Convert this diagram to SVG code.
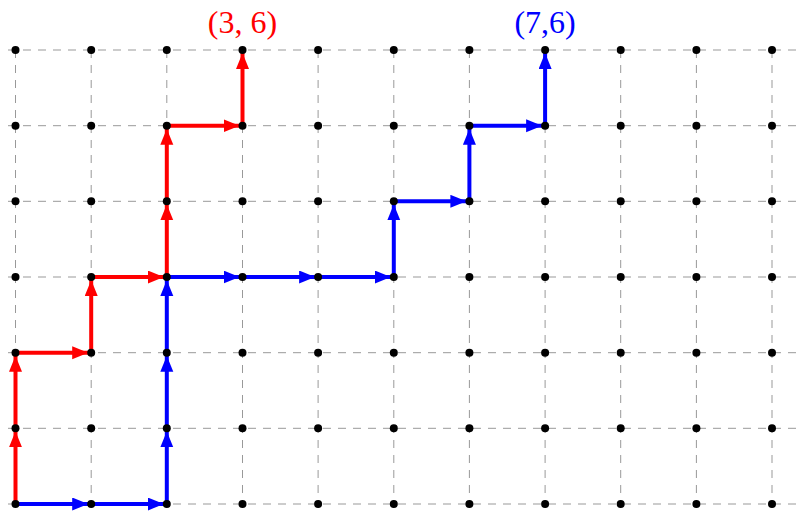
<svg xmlns="http://www.w3.org/2000/svg" width="798" height="512" viewBox="0 0 798 512">
<style>
.grid line{stroke:#999;stroke-width:1;stroke-dasharray:8 7;fill:none}
.red line{stroke:#ff0000;stroke-width:4;marker-end:url(#ar)}
.blue line{stroke:#0000ff;stroke-width:4;marker-end:url(#ab)}
.dots circle{fill:#000}
.lbl{font-family:"Liberation Serif","Times New Roman",serif;font-size:32px;text-anchor:middle}
</style>
<defs>
<marker id="ar" markerUnits="userSpaceOnUse" markerWidth="20" markerHeight="14" refX="19" refY="6.5" orient="auto"><path d="M0,0 L16,6.5 L0,13 z" fill="#ff0000"/></marker>
<marker id="ab" markerUnits="userSpaceOnUse" markerWidth="20" markerHeight="14" refX="19" refY="6.5" orient="auto"><path d="M0,0 L16,6.5 L0,13 z" fill="#0000ff"/></marker>
</defs>
<rect width="798" height="512" fill="#fff"/>
<g id="grid" class="grid">
<line x1="8" y1="50" x2="798" y2="50"/>
<line x1="8" y1="125.7" x2="798" y2="125.7"/>
<line x1="8" y1="201.3" x2="798" y2="201.3"/>
<line x1="8" y1="277" x2="798" y2="277"/>
<line x1="8" y1="352.7" x2="798" y2="352.7"/>
<line x1="8" y1="428.3" x2="798" y2="428.3"/>
<line x1="8" y1="504" x2="798" y2="504"/>
<line x1="15.5" y1="50" x2="15.5" y2="512"/>
<line x1="91.2" y1="50" x2="91.2" y2="512"/>
<line x1="166.8" y1="50" x2="166.8" y2="512"/>
<line x1="242.5" y1="50" x2="242.5" y2="512"/>
<line x1="318.1" y1="50" x2="318.1" y2="512"/>
<line x1="393.8" y1="50" x2="393.8" y2="512"/>
<line x1="469.4" y1="50" x2="469.4" y2="512"/>
<line x1="545.1" y1="50" x2="545.1" y2="512"/>
<line x1="620.7" y1="50" x2="620.7" y2="512"/>
<line x1="696.4" y1="50" x2="696.4" y2="512"/>
<line x1="772" y1="50" x2="772" y2="512"/>
</g>
<g id="connectors">
<g id="red-path" class="red">
<line x1="15.5" y1="504" x2="15.5" y2="428.3"/>
<line x1="15.5" y1="428.3" x2="15.5" y2="352.7"/>
<line x1="15.5" y1="352.7" x2="91.2" y2="352.7"/>
<line x1="91.2" y1="352.7" x2="91.2" y2="277"/>
<line x1="91.2" y1="277" x2="166.8" y2="277"/>
<line x1="166.8" y1="277" x2="166.8" y2="201.3"/>
<line x1="166.8" y1="201.3" x2="166.8" y2="125.7"/>
<line x1="166.8" y1="125.7" x2="242.5" y2="125.7"/>
<line x1="242.5" y1="125.7" x2="242.5" y2="50"/>
</g>
<g id="blue-path" class="blue">
<line x1="15.5" y1="504" x2="91.2" y2="504"/>
<line x1="91.2" y1="504" x2="166.8" y2="504"/>
<line x1="166.8" y1="504" x2="166.8" y2="428.3"/>
<line x1="166.8" y1="428.3" x2="166.8" y2="352.7"/>
<line x1="166.8" y1="352.7" x2="166.8" y2="277"/>
<line x1="166.8" y1="277" x2="242.5" y2="277"/>
<line x1="242.5" y1="277" x2="318.1" y2="277"/>
<line x1="318.1" y1="277" x2="393.8" y2="277"/>
<line x1="393.8" y1="277" x2="393.8" y2="201.3"/>
<line x1="393.8" y1="201.3" x2="469.4" y2="201.3"/>
<line x1="469.4" y1="201.3" x2="469.4" y2="125.7"/>
<line x1="469.4" y1="125.7" x2="545.1" y2="125.7"/>
<line x1="545.1" y1="125.7" x2="545.1" y2="50"/>
</g>
</g>
<g id="dots" class="dots">
<circle cx="15.5" cy="50" r="4"/><circle cx="91.2" cy="50" r="4"/><circle cx="166.8" cy="50" r="4"/><circle cx="242.5" cy="50" r="4"/><circle cx="318.1" cy="50" r="4"/><circle cx="393.8" cy="50" r="4"/><circle cx="469.4" cy="50" r="4"/><circle cx="545.1" cy="50" r="4"/><circle cx="620.7" cy="50" r="4"/><circle cx="696.4" cy="50" r="4"/><circle cx="772" cy="50" r="4"/>
<circle cx="15.5" cy="125.7" r="4"/><circle cx="91.2" cy="125.7" r="4"/><circle cx="166.8" cy="125.7" r="4"/><circle cx="242.5" cy="125.7" r="4"/><circle cx="318.1" cy="125.7" r="4"/><circle cx="393.8" cy="125.7" r="4"/><circle cx="469.4" cy="125.7" r="4"/><circle cx="545.1" cy="125.7" r="4"/><circle cx="620.7" cy="125.7" r="4"/><circle cx="696.4" cy="125.7" r="4"/><circle cx="772" cy="125.7" r="4"/>
<circle cx="15.5" cy="201.3" r="4"/><circle cx="91.2" cy="201.3" r="4"/><circle cx="166.8" cy="201.3" r="4"/><circle cx="242.5" cy="201.3" r="4"/><circle cx="318.1" cy="201.3" r="4"/><circle cx="393.8" cy="201.3" r="4"/><circle cx="469.4" cy="201.3" r="4"/><circle cx="545.1" cy="201.3" r="4"/><circle cx="620.7" cy="201.3" r="4"/><circle cx="696.4" cy="201.3" r="4"/><circle cx="772" cy="201.3" r="4"/>
<circle cx="15.5" cy="277" r="4"/><circle cx="91.2" cy="277" r="4"/><circle cx="166.8" cy="277" r="4"/><circle cx="242.5" cy="277" r="4"/><circle cx="318.1" cy="277" r="4"/><circle cx="393.8" cy="277" r="4"/><circle cx="469.4" cy="277" r="4"/><circle cx="545.1" cy="277" r="4"/><circle cx="620.7" cy="277" r="4"/><circle cx="696.4" cy="277" r="4"/><circle cx="772" cy="277" r="4"/>
<circle cx="15.5" cy="352.7" r="4"/><circle cx="91.2" cy="352.7" r="4"/><circle cx="166.8" cy="352.7" r="4"/><circle cx="242.5" cy="352.7" r="4"/><circle cx="318.1" cy="352.7" r="4"/><circle cx="393.8" cy="352.7" r="4"/><circle cx="469.4" cy="352.7" r="4"/><circle cx="545.1" cy="352.7" r="4"/><circle cx="620.7" cy="352.7" r="4"/><circle cx="696.4" cy="352.7" r="4"/><circle cx="772" cy="352.7" r="4"/>
<circle cx="15.5" cy="428.3" r="4"/><circle cx="91.2" cy="428.3" r="4"/><circle cx="166.8" cy="428.3" r="4"/><circle cx="242.5" cy="428.3" r="4"/><circle cx="318.1" cy="428.3" r="4"/><circle cx="393.8" cy="428.3" r="4"/><circle cx="469.4" cy="428.3" r="4"/><circle cx="545.1" cy="428.3" r="4"/><circle cx="620.7" cy="428.3" r="4"/><circle cx="696.4" cy="428.3" r="4"/><circle cx="772" cy="428.3" r="4"/>
<circle cx="15.5" cy="504" r="4"/><circle cx="91.2" cy="504" r="4"/><circle cx="166.8" cy="504" r="4"/><circle cx="242.5" cy="504" r="4"/><circle cx="318.1" cy="504" r="4"/><circle cx="393.8" cy="504" r="4"/><circle cx="469.4" cy="504" r="4"/><circle cx="545.1" cy="504" r="4"/><circle cx="620.7" cy="504" r="4"/><circle cx="696.4" cy="504" r="4"/><circle cx="772" cy="504" r="4"/>
</g>
<g id="label-red"><text class="lbl" x="242.5" y="33" fill="#ff0000">(3, 6)</text></g>
<g id="label-blue"><text class="lbl" x="545.1" y="33" fill="#0000ff">(7,6)</text></g>
</svg>
